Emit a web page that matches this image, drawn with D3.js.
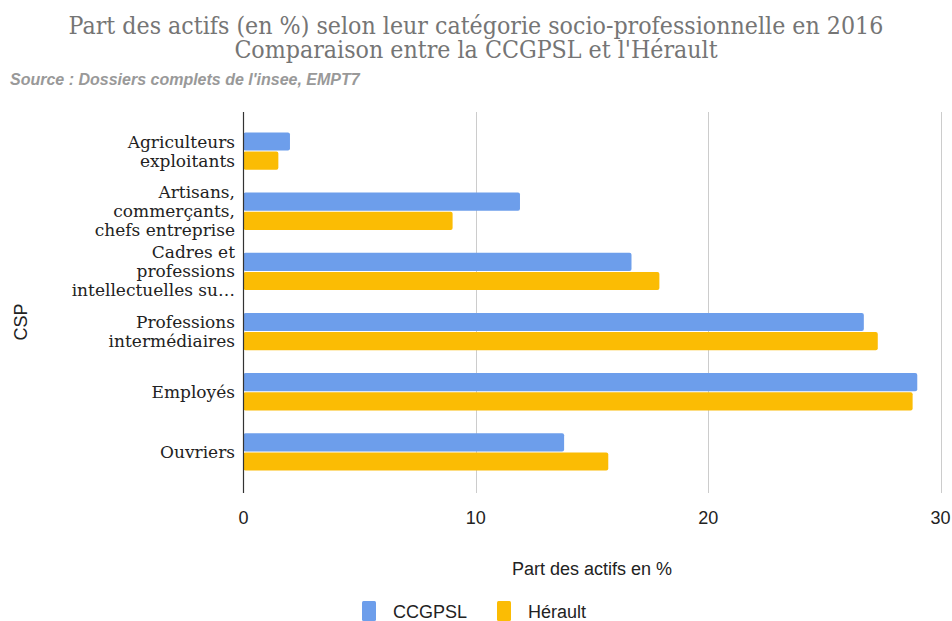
<!DOCTYPE html>
<html>
<head>
<meta charset="utf-8">
<script src="https://cdn.jsdelivr.net/npm/d3@7"></script>
<style>
  body { margin: 0; background: #fff; }
  svg { display: block; }
</style>
</head>
<body>
<div id="chart"></div>
<script>
const width = 952;
const height = 621;

const categories = [
  ["Agriculteurs", "exploitants"],
  ["Artisans,", "commerçants,", "chefs entreprise"],
  ["Cadres et", "professions", "intellectuelles su…"],
  ["Professions", "intermédiaires"],
  ["Employés"],
  ["Ouvriers"],
];
const seriesNames = ["CCGPSL", "Hérault"];
const ccgpsl = [2.0, 11.9, 16.7, 26.7, 29.0, 13.8];
const herault = [1.5, 9.0, 17.9, 27.3, 28.8, 15.7];
const xTicks = [0, 10, 20, 30];
const colors = ["#6d9eeb", "#fbbc04"];

const plotTop = 112;
const plotBottom = 493;

const svg = d3.select("#chart").append("svg")
  .attr("width", width).attr("height", height);

// title
const title = svg.append("text")
  .attr("x", 476).attr("y", 34)
  .attr("text-anchor", "middle")
  .attr("fill", "#757575")
  .style("font-family", "DejaVu Serif")
  .style("font-stretch", "condensed")
  .style("font-size", "24.7px");
title.append("tspan").attr("x", 476).text("Part des actifs (en %) selon leur catégorie socio-professionnelle en 2016");
title.append("tspan").attr("x", 476).attr("dy", 24).text("Comparaison entre la CCGPSL et l'Hérault");

svg.append("text")
  .attr("x", 10).attr("y", 85)
  .attr("fill", "#999")
  .style("font-family", "Liberation Sans")
  .style("font-size", "16px")
  .style("font-style", "italic")
  .style("font-weight", "bold")
  .text("Source : Dossiers complets de l'insee, EMPT7");

const x = d3.scaleLinear().domain([0, 30]).range([243.5, 940.5]);
const y = d3.scaleBand()
  .domain(d3.range(categories.length))
  .range([121, 482])
  .paddingInner(0.38)
  .paddingOuter(0.19);
const ySub = d3.scaleBand().domain([0, 1]).range([0, y.bandwidth()]).paddingInner(0.05);

// gridlines
svg.append("g")
  .selectAll("line")
  .data(xTicks.slice(1))
  .join("line")
  .attr("x1", (d) => Math.round(x(d)) + 0.5)
  .attr("x2", (d) => Math.round(x(d)) + 0.5)
  .attr("y1", plotTop)
  .attr("y2", plotBottom)
  .attr("stroke", "#ccc")
  .attr("stroke-width", 1);

// bars
const rows = categories.map((c, i) => [ccgpsl[i], herault[i]]);
svg.append("g")
  .selectAll("g")
  .data(rows)
  .join("g")
  .attr("transform", (d, i) => `translate(0,${y(i)})`)
  .selectAll("rect")
  .data((d) => d)
  .join("rect")
  .attr("x", x(0))
  .attr("y", (d, j) => ySub(j))
  .attr("width", (d) => x(d) - x(0))
  .attr("height", ySub.bandwidth())
  .attr("rx", 2)
  .attr("fill", (d, j) => colors[j]);

// y axis line
svg.append("line")
  .attr("x1", 243.5).attr("x2", 243.5)
  .attr("y1", plotTop).attr("y2", plotBottom)
  .attr("stroke", "#333").attr("stroke-width", 1.2);

// category labels
const labels = svg.append("g")
  .selectAll("text")
  .data(categories)
  .join("text")
  .attr("text-anchor", "end")
  .attr("fill", "#222")
  .style("font-family", "DejaVu Serif")
  .style("font-size", "17px")
  .attr("transform", (d, i) => `translate(235,${y(i) + y.bandwidth() / 2})`);
labels.selectAll("tspan")
  .data((d) => d.map((t, k) => ({ t, k, n: d.length })))
  .join("tspan")
  .attr("x", 0)
  .attr("y", (d) => (d.k - (d.n - 1) / 2) * 19 + 6)
  .text((d) => d.t);

// x tick labels
svg.append("g")
  .selectAll("text")
  .data(xTicks)
  .join("text")
  .attr("x", (d) => x(d))
  .attr("y", 524)
  .attr("text-anchor", "middle")
  .attr("fill", "#222")
  .style("font-family", "Liberation Sans")
  .style("font-size", "18px")
  .text((d) => d);

svg.append("text")
  .attr("x", 592).attr("y", 575)
  .attr("text-anchor", "middle")
  .attr("fill", "#222")
  .style("font-family", "Liberation Sans")
  .style("font-size", "18px")
  .text("Part des actifs en %");

svg.append("text")
  .attr("transform", "translate(27,322) rotate(-90)")
  .attr("text-anchor", "middle")
  .attr("fill", "#222")
  .style("font-family", "Liberation Sans")
  .style("font-size", "18px")
  .text("CSP");

// legend
const legendX = [362, 497];
const legend = svg.append("g")
  .selectAll("g")
  .data(seriesNames)
  .join("g")
  .attr("transform", (d, i) => `translate(${legendX[i]},601)`);
legend.append("rect")
  .attr("width", 14).attr("height", 20)
  .attr("rx", 1.5)
  .attr("fill", (d, i) => colors[i]);
legend.append("text")
  .attr("x", 31).attr("y", 17)
  .attr("fill", "#222")
  .style("font-family", "Liberation Sans")
  .style("font-size", "18px")
  .text((d) => d);
</script>
</body>
</html>
